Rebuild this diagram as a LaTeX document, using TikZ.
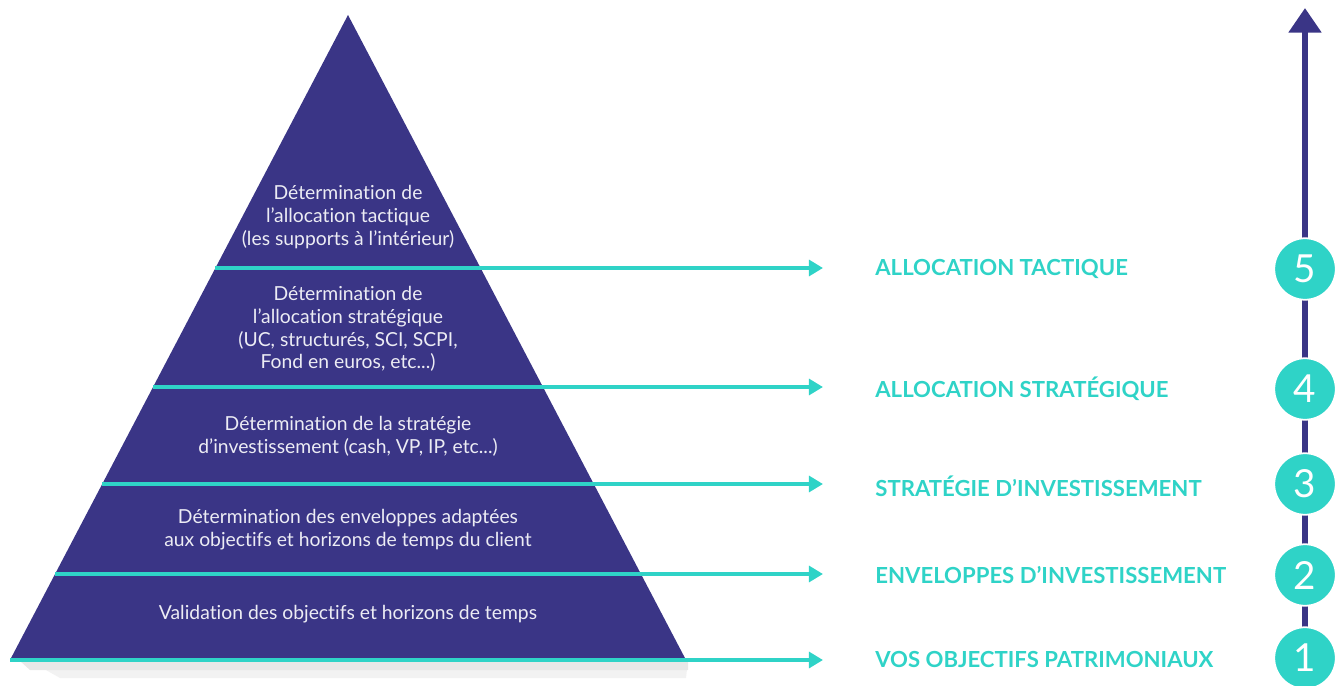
\documentclass[tikz,border=0pt]{standalone}
\usepackage{fontspec}
\setmainfont{Lato}[Ligatures=NoCommon]
\usetikzlibrary{arrows.meta,backgrounds}
\definecolor{pyrpurple}{HTML}{3A3586}
\definecolor{pyrteal}{HTML}{2FD3C7}
\definecolor{pyrtext}{HTML}{ECECF4}
\pgfdeclarelayer{edgelayer}
\pgfdeclarelayer{nodelayer}
\pgfsetlayers{edgelayer,main,nodelayer}
\tikzset{font=\fontsize{11}{13}\selectfont}
\tikzstyle{none}=[inner sep=0pt]
\tikzstyle{layertext}=[align=center,text=pyrtext,inner sep=0pt]
\tikzstyle{steplabel}=[anchor=west,text=pyrteal,inner sep=0pt,font=\fontsize{12.6}{14}\selectfont\bfseries]
\tikzstyle{stepcirc}=[circle,fill=pyrteal,draw=white,line width=1pt,minimum size=35pt,inner sep=0pt,text=white,font=\fontsize{22}{22}\selectfont]
\tikzstyle{levelarrow}=[draw=pyrteal,line width=2.4pt,-{Triangle[width=9pt,length=8pt]}]

\begin{document}
\begin{tikzpicture}[x=0.02cm,y=-0.02cm]
	\useasboundingbox (0,0) rectangle (1340,686);
	% pyramid
	\fill[black!5] (30,661) -- (688,661) -- (686,678) -- (60,678) -- cycle;
	\fill[black!9] (20,661) -- (688,661) -- (688,670) -- (30,670) -- cycle;
	\fill[pyrpurple] (348,15) -- (686,660) -- (10,660) -- cycle;
	\begin{pgfonlayer}{nodelayer}
		\node [style=none] (0) at (348, 15) {};
		\node [style=none] (1) at (215, 268) {};
		\node [style=none] (2) at (153, 387) {};
		\node [style=none] (3) at (102, 484) {};
		\node [style=none] (4) at (55, 574) {};
		\node [style=none] (5) at (10, 660) {};
		\node [style=none] (6) at (823, 268) {};
		\node [style=none] (7) at (823, 387) {};
		\node [style=none] (8) at (823, 484) {};
		\node [style=none] (9) at (823, 574) {};
		\node [style=none] (10) at (823, 660) {};
		\node [style=layertext] (11) at (348, 217) {Détermination de\\l’allocation tactique\\(les supports à l’intérieur)};
		\node [style=layertext] (12) at (348, 329) {Détermination de\\l’allocation stratégique\\(UC, structurés, SCI, SCPI,\\Fond en euros, etc...)};
		\node [style=layertext] (13) at (348, 436) {Détermination de la stratégie\\d’investissement (cash, VP, IP, etc...)};
		\node [style=layertext] (14) at (348, 530) {Détermination des enveloppes adaptées\\aux objectifs et horizons de temps du client};
		\node [style=layertext] (15) at (348, 614) {Validation des objectifs et horizons de temps};
		\node [style=steplabel] (16) at (875, 269) {ALLOCATION TACTIQUE};
		\node [style=steplabel] (17) at (875, 389) {ALLOCATION STRATÉGIQUE};
		\node [style=steplabel] (18) at (875, 486) {STRATÉGIE D’INVESTISSEMENT};
		\node [style=steplabel] (19) at (875, 575) {ENVELOPPES D’INVESTISSEMENT};
		\node [style=steplabel] (20) at (875, 659) {VOS OBJECTIFS PATRIMONIAUX};
		\node [style=stepcirc] (21) at (1305, 269) {5};
		\node [style=stepcirc] (22) at (1305, 389) {4};
		\node [style=stepcirc] (23) at (1305, 484) {3};
		\node [style=stepcirc] (24) at (1305, 575) {2};
		\node [style=stepcirc] (25) at (1305, 658) {1};
		\coordinate (26) at (1305, 8);
	\end{pgfonlayer}
	\begin{pgfonlayer}{main}
		\draw[style=levelarrow] (1.center) to (6.center);
		\draw[style=levelarrow] (2.center) to (7.center);
		\draw[style=levelarrow] (3.center) to (8.center);
		\draw[style=levelarrow] (4.center) to (9.center);
		\draw[style=levelarrow] (5.center) to (10.center);
		\draw[draw=pyrpurple,line width=3.8pt,-{Triangle[width=18pt,length=14pt]}] (25.center) to (26);
	\end{pgfonlayer}
\end{tikzpicture}
\end{document}
